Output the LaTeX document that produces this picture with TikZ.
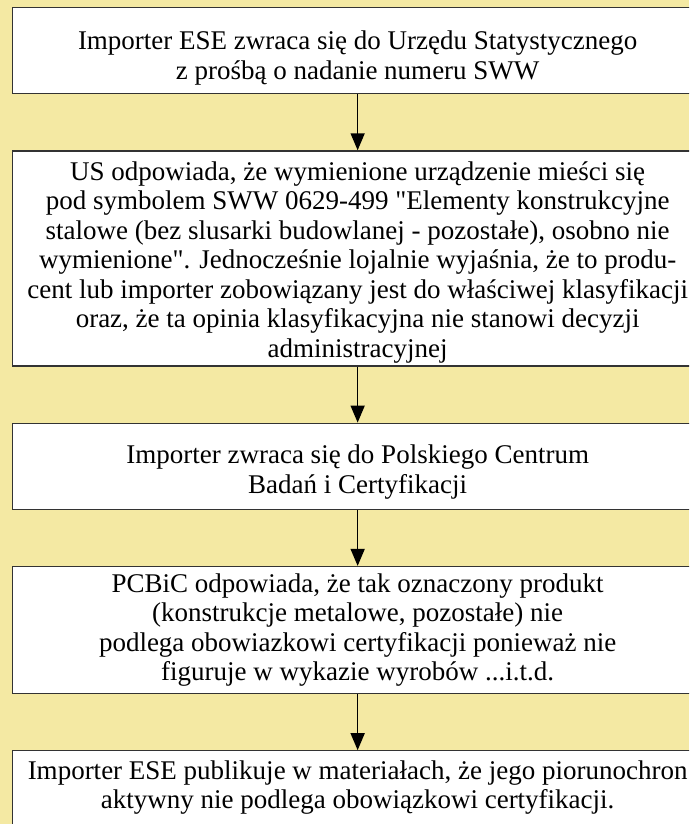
\documentclass[tikz,border=0pt]{standalone}
\usepackage{fontspec}
\setmainfont{Liberation Serif}[Ligatures=TeXOff]
\usetikzlibrary{positioning,arrows.meta}
\definecolor{paper}{RGB}{244,233,163}

\begin{document}
\begin{tikzpicture}[x=1pt, y=1pt, node distance = 56pt,
StepBox/.style={draw=black!80, line width=1.3pt, fill=white,
                minimum width=690pt, align=center, inner sep=0pt,
                font=\fontsize{27}{29.5}\selectfont},
Flow/.style={draw=black, line width=1.5pt,
             -{Triangle[length=17pt, width=14pt]}},]
\fill [paper] (0,0) rectangle (689,824);
\useasboundingbox (0,0) rectangle (689,824);
\clip (0,0) rectangle (689,824);
\node [StepBox, minimum height=86pt, anchor=north west] at (12, 817) (s1)
  {\rule{0pt}{33pt}Importer ESE zwraca się do Urzędu Statystycznego\\
   z prośbą o nadanie numeru SWW};
\node [StepBox, minimum height=215pt, below=of s1] (s2)
  {\rule{0pt}{26pt}US odpowiada, że wymienione urządzenie mieści się\\
   pod symbolem SWW 0629-499 "Elementy konstrukcyjne\\
   stalowe (bez slusarki budowlanej - pozostałe), osobno nie\\
   wymienione". Jednocześnie lojalnie wyjaśnia, że to produ-\\
   cent lub importer zobowiązany jest do właściwej klasyfikacji\\
   oraz, że ta opinia klasyfikacyjna nie stanowi decyzji\\
   administracyjnej};
\node [StepBox, minimum height=86pt, below=of s2] (s3)
  {\rule{0pt}{30pt}Importer zwraca się do Polskiego Centrum\\
   Badań i Certyfikacji};
\node [StepBox, minimum height=127pt, below=of s3] (s4)
  {PCBiC odpowiada, że tak oznaczony produkt\\
   (konstrukcje metalowe, pozostałe) nie\\
   podlega obowiazkowi certyfikacji ponieważ nie\\
   figuruje w wykazie wyrobów ...i.t.d.};
\node [StepBox, minimum height=84pt, below=of s4] (s5)
  {Importer ESE publikuje w materiałach, że jego piorunochron\\
   aktywny nie podlega obowiązkowi certyfikacji.\rule[-16pt]{0pt}{0pt}};

\draw [Flow] (s1)--(s2);
\draw [Flow] (s2)--(s3);
\draw [Flow] (s3)--(s4);
\draw [Flow] (s4)--(s5);
\end{tikzpicture}
\end{document}
